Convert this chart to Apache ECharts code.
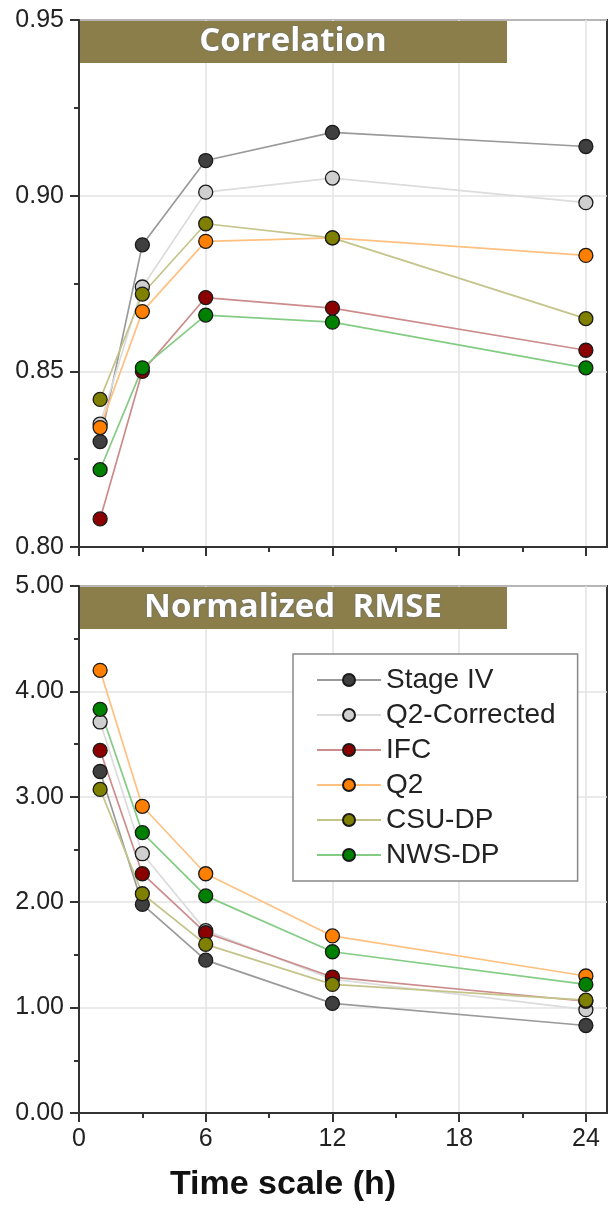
<!DOCTYPE html>
<html lang="en">
<head>
<meta charset="UTF-8">
<title>Correlation / Normalized RMSE</title>
<script src="https://cdn.jsdelivr.net/npm/echarts@6/dist/echarts.min.js"></script>
<style>
    html, body { margin: 0; padding: 0; background: #fff; }
    #chart { width: 610px; height: 1205px; }
</style>
</head>
<body>
<div id="chart"></div>
<script>
    // time scale (h)
    var hours = [1, 3, 6, 12, 24];
    var names = ['Stage IV', 'Q2-Corrected', 'IFC', 'Q2', 'CSU-DP', 'NWS-DP'];

    // correlation
    var corrStageIV  = [0.830, 0.886, 0.910, 0.918, 0.914];
    var corrQ2Corr   = [0.835, 0.874, 0.901, 0.905, 0.898];
    var corrIFC      = [0.808, 0.850, 0.871, 0.868, 0.856];
    var corrQ2       = [0.834, 0.867, 0.887, 0.888, 0.883];
    var corrCSU      = [0.842, 0.872, 0.892, 0.888, 0.865];
    var corrNWS      = [0.822, 0.851, 0.866, 0.864, 0.851];

    // normalized RMSE
    var rmseStageIV  = [3.24, 1.98, 1.45, 1.04, 0.83];
    var rmseQ2Corr   = [3.71, 2.46, 1.73, 1.27, 0.98];
    var rmseIFC      = [3.44, 2.27, 1.71, 1.29, 1.06];
    var rmseQ2       = [4.20, 2.91, 2.27, 1.68, 1.30];
    var rmseCSU      = [3.07, 2.08, 1.60, 1.22, 1.07];
    var rmseNWS      = [3.83, 2.66, 2.06, 1.53, 1.22];

    var majorX = [0, 6, 12, 18, 24];
    var minorX = [3, 9, 15, 21];

    var fills = ['#3f3f3f', '#cfcfcf', '#8b0000', '#ff8000', '#808000', '#008000'];
    var lines = ['#9a9a9a', '#dcdcdc', '#cc8c8c', '#ffc080', '#c4c48a', '#84cc84'];

    var corrData = [corrStageIV, corrQ2Corr, corrIFC, corrQ2, corrCSU, corrNWS];
    var rmseData = [rmseStageIV, rmseQ2Corr, rmseIFC, rmseQ2, rmseCSU, rmseNWS];

    var font = 'Liberation Sans, Arial, sans-serif';
    var frame = '#333';
    var gridColor = '#e3e3e3';

    function mainX(idx, labels) {
        return {
            gridIndex: idx, type: 'value', min: 0, max: 25, position: 'bottom',
            axisLine: { show: true, onZero: false, lineStyle: { color: frame, width: 2 } },
            axisTick: { show: true, customValues: majorX, length: 9, lineStyle: { color: frame, width: 2 } },
            axisLabel: { show: labels, customValues: majorX, fontSize: 25, color: '#222', fontFamily: font, margin: 14 },
            splitLine: { show: true, lineStyle: { color: gridColor, width: 1.5 } }
        };
    }
    function minorXAxis(idx) {
        return {
            gridIndex: idx, type: 'value', min: 0, max: 25, position: 'bottom',
            axisLine: { show: false },
            axisTick: { show: true, customValues: minorX, length: 5, lineStyle: { color: frame, width: 2 } },
            axisLabel: { show: false },
            splitLine: { show: false }
        };
    }
    function yAxis(idx, min, max, step) {
        return {
            gridIndex: idx, type: 'value', min: min, max: max, interval: step,
            axisLine: { show: true, onZero: false, lineStyle: { color: frame, width: 2 } },
            axisTick: { show: true, length: 9, lineStyle: { color: frame, width: 2 } },
            minorTick: { show: true, splitNumber: 2, length: 5, lineStyle: { color: frame, width: 2 } },
            axisLabel: {
                fontSize: 25, color: '#222', fontFamily: font, margin: 15,
                formatter: function (v) { return v.toFixed(2); }
            },
            splitLine: { show: true, lineStyle: { color: gridColor, width: 1.5 } }
        };
    }

    var series = [];
    function addSeries(dataSets, xIdx, yIdx) {
        for (var i = 0; i < names.length; i++) {
            series.push({
                name: names[i], type: 'line', xAxisIndex: xIdx, yAxisIndex: yIdx,
                data: hours.map(function (h, k) { return [h, dataSets[i][k]]; }),
                symbol: 'circle', symbolSize: 14,
                itemStyle: { color: fills[i], borderColor: '#1a1a1a', borderWidth: 1.3 },
                lineStyle: { color: lines[i], width: 1.7 },
                emphasis: { disabled: true },
                z: 3
            });
        }
    }
    addSeries(corrData, 0, 0);
    addSeries(rmseData, 2, 1);

    function banner(top, text) {
        return [
            { type: 'rect', z: 100, shape: { x: 80, y: top + 1, width: 427, height: 42 }, style: { fill: '#8c7e4a' } },
            {
                type: 'text', z: 101, x: 293, y: top + 22,
                style: {
                    text: text, fill: '#fff', font: 'bold 33px "Open Sans", sans-serif',
                    align: 'center', verticalAlign: 'middle',
                    textShadowColor: 'rgba(60,100,170,0.7)', textShadowBlur: 2
                }
            }
        ];
    }

    var chart = echarts.init(document.getElementById('chart'));
    chart.setOption({
        animation: false,
        backgroundColor: '#fff',
        grid: [
            { left: 79, top: 20, width: 528, height: 527, show: true, borderColor: frame, borderWidth: 2 },
            { left: 79, top: 586, width: 528, height: 527, show: true, borderColor: frame, borderWidth: 2 }
        ],
        xAxis: [mainX(0, false), minorXAxis(0), mainX(1, true), minorXAxis(1)],
        yAxis: [yAxis(0, 0.8, 0.95, 0.05), yAxis(1, 0, 5, 1)],
        legend: {
            data: names, orient: 'vertical', left: 293, top: 654,
            backgroundColor: '#fff', borderColor: '#888', borderWidth: 1.5, borderRadius: 0,
            padding: [11, 22, 11, 23], itemWidth: 64, itemHeight: 15, itemGap: 5,
            textStyle: { fontSize: 28, fontFamily: font, color: '#222', lineHeight: 30 },
            selectedMode: false
        },
        graphic: banner(20, 'Correlation').concat(banner(586, 'Normalized  RMSE')).concat([
            {
                type: 'text', x: 283, y: 1185, z: 100,
                style: {
                    text: 'Time scale (h)', fill: '#111', font: 'bold 34px ' + font,
                    align: 'center', verticalAlign: 'middle'
                }
            }
        ]),
        series: series
    });
</script>
</body>
</html>
